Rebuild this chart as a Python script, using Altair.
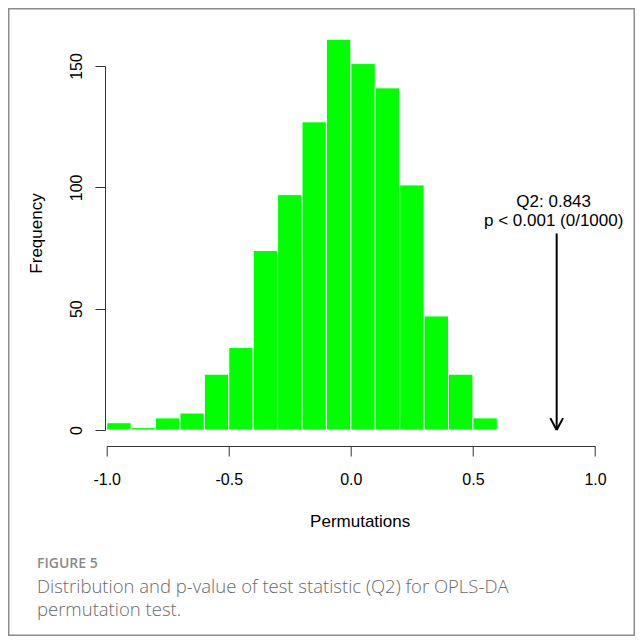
import altair as alt
import pandas as pd

# ---- data ----
bin_start = [-1.0, -0.9, -0.8, -0.7, -0.6, -0.5, -0.4, -0.3, -0.2, -0.1, 0.0, 0.1, 0.2, 0.3, 0.4, 0.5]
bin_end = [-0.9, -0.8, -0.7, -0.6, -0.5, -0.4, -0.3, -0.2, -0.1, 0.0, 0.1, 0.2, 0.3, 0.4, 0.5, 0.6]
counts = [3, 1, 5, 7, 23, 34, 74, 97, 127, 161, 151, 141, 101, 47, 23, 5]

x_ticks = [-1.0, -0.5, 0.0, 0.5, 1.0]
y_ticks = [0, 50, 100, 150]

q2_value = 0.843
arrow_top = 81
annot_lines = ["Q2: 0.843", "p < 0.001 (0/1000)"]
annot_y = [92, 84]

caption_head = "FIGURE 5"
caption_lines = ["Distribution and p-value of test statistic (Q2) for OPLS-DA",
                 "permutation test."]

# ---- layout constants ----
W, H = 488.3, 364
PL, PT, PR, PB = 98.7, 58, 40, 206
FONT = "Liberation Sans"
AX = "#333333"

hist = pd.DataFrame({"start": bin_start, "end": bin_end, "count": counts})

xscale = alt.Scale(domain=[-1.0, 1.0], nice=False, zero=False)
yscale = alt.Scale(domain=[0, 150], nice=False)

bars = alt.Chart(hist).mark_rect(color="#00ff00", stroke="white", strokeWidth=1).encode(
    x=alt.X("start:Q", scale=xscale,
            axis=alt.Axis(values=x_ticks, offset=16, tickSize=10, grid=False,
                          domainColor=AX, tickColor=AX, domainWidth=1, tickWidth=1,
                          labelFont=FONT, labelFontSize=16, labelColor="black",
                          labelPadding=28, labelBaseline="alphabetic", labelFlush=False,
                          labelExpr="replace(format(datum.value, '.1f'), '\u2212', '-')",
                          title="Permutations", titleFont=FONT, titleFontSize=17,
                          titleFontWeight="normal", titleColor="black",
                          titleX=253, titleY=80.7, titleAlign="center",
                          titleBaseline="alphabetic")),
    x2="end:Q",
    y=alt.Y("count:Q", scale=yscale,
            axis=alt.Axis(values=y_ticks, offset=1.7, tickSize=10, grid=False,
                          domainColor=AX, tickColor=AX, domainWidth=1, tickWidth=1,
                          labelFont=FONT, labelFontSize=16, labelColor="black",
                          labelAngle=270, labelAlign="center", labelBaseline="alphabetic",
                          labelPadding=14,
                          title="Frequency", titleFont=FONT, titleFontSize=17,
                          titleFontWeight="normal", titleColor="black",
                          titleAngle=270, titleX=-63.3, titleY=167,
                          titleAlign="center", titleBaseline="alphabetic")),
    y2=alt.datum(0),
)

arrow_df = pd.DataFrame({"x": [q2_value], "top": [arrow_top]})
shaft = alt.Chart(arrow_df).mark_rule(color="black", strokeWidth=2).encode(
    x=alt.X("x:Q", scale=xscale), y=alt.Y("top:Q", scale=yscale), y2=alt.datum(0)
)

HEAD_DX, HEAD_DY = 0.026, 4.9
head_df = pd.DataFrame({
    "x": [q2_value - HEAD_DX, q2_value + HEAD_DX],
    "x2": [q2_value, q2_value],
    "y": [HEAD_DY, HEAD_DY],
})
head = alt.Chart(head_df).mark_rule(color="black", strokeWidth=2).encode(
    x=alt.X("x:Q", scale=xscale), x2="x2:Q",
    y=alt.Y("y:Q", scale=yscale), y2=alt.datum(0)
)

annot_df = pd.DataFrame({"x": [q2_value] * 2, "y": annot_y, "t": annot_lines})
annot = alt.Chart(annot_df).mark_text(font=FONT, fontSize=17, color="black",
                                      align="center", baseline="alphabetic", dx=-3).encode(
    x=alt.X("x:Q", scale=xscale), y=alt.Y("y:Q", scale=yscale), text="t:N"
)

cap_font = "Open Sans"
cap_head = alt.Chart(pd.DataFrame({"t": [caption_head]})).mark_text(
    font=cap_font, fontSize=14, fontWeight=600, color="#8a8a8a",
    align="left", baseline="alphabetic").encode(
    x=alt.value(-69.7), y=alt.value(502), text="t:N")
cap1 = alt.Chart(pd.DataFrame({"t": [caption_lines[0]]})).mark_text(
    font=cap_font, fontSize=18.5, fontWeight=300, color="#6a6a6a",
    align="left", baseline="alphabetic").encode(
    x=alt.value(-69.7), y=alt.value(526.5), text="t:N")
cap2 = alt.Chart(pd.DataFrame({"t": [caption_lines[1]]})).mark_text(
    font=cap_font, fontSize=18.5, fontWeight=300, color="#6a6a6a",
    align="left", baseline="alphabetic").encode(
    x=alt.value(-69.7), y=alt.value(550), text="t:N")

frame = alt.Chart(pd.DataFrame({"k": [0]})).mark_rect(
    filled=False, stroke="#8c8c8c", strokeWidth=1.5).encode(
    x=alt.value(-PL + 0.75), x2=alt.value(W + PR - 0.75),
    y=alt.value(-PT + 0.75), y2=alt.value(H + PB - 0.75))

chart = alt.layer(bars, shaft, head, annot, cap_head, cap1, cap2, frame).properties(
    width=W, height=H,
    padding={"left": PL, "top": PT, "right": PR, "bottom": PB},
    autosize=alt.AutoSizeParams(type="none"),
    background="white",
).configure_view(stroke=None)

chart.save("out.html", embed_options={"renderer": "svg", "actions": False})
